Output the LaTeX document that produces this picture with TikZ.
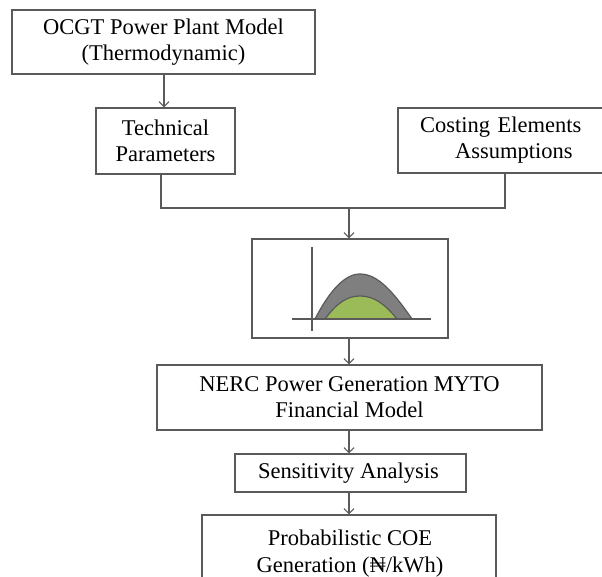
\documentclass[tikz,border=0pt]{standalone}
\usepackage{fontspec}
\setmainfont{Liberation Serif}
\usetikzlibrary{arrows.meta}
\definecolor{linec}{HTML}{5A5A5A}
\definecolor{humpgray}{HTML}{7F7F7F}
\definecolor{humpgreen}{HTML}{9BBB59}
\begin{document}
\begin{tikzpicture}[x=1pt,y=-1pt,
  box/.style={draw=linec, line width=1.3pt, rectangle, inner sep=0pt, align=center,
    font=\fontsize{22.5}{26}\selectfont},
  conn/.style={draw=linec, line width=1.3pt},
  arr/.style={conn, -{Straight Barb[length=5pt,width=10pt,line width=1.1pt]}}]
\useasboundingbox (0,0) rectangle (602,577);
\clip (0,0) rectangle (602,577);
\fill[white] (0,0) rectangle (602,577);
\node[box, minimum width=303pt, minimum height=64pt] (ocgt) at (163.5,42) {OCGT Power Plant Model\\(Thermodynamic)};
\node[box, minimum width=139pt, minimum height=66pt] (tech) at (165.5,141) {Technical\\Parameters};
\node[box, minimum width=260pt, minimum height=65pt, text width=260pt, align=left] (cost) at (528,140.5) {\hspace*{22pt}Costing Elements\\\hspace*{57pt}Assumptions};
\node[box, minimum width=196pt, minimum height=99pt] (chart) at (350,288.5) {};
\node[box, minimum width=385pt, minimum height=65pt] (nerc) at (349.5,397.5) {NERC Power Generation MYTO\\Financial Model};
\node[box, minimum width=231pt, minimum height=38pt] (sens) at (350.5,473) {\hspace*{-4pt}Sensitivity Analysis};
\node[box, minimum width=294pt, minimum height=85pt] (coe) at (349,557.5) {};
\node[font=\fontsize{22.5}{27}\selectfont, align=center, inner sep=0pt, anchor=base] (coetxt) at (350,572) {Probabilistic COE\\Generation (₦/kWh)};
% join
\coordinate (tdn) at (161,208);
\coordinate (cdn) at (505,208);
\coordinate (mid) at (349,208);
\draw[arr] (ocgt.south -| 164,0) -- (tech.north -| 164,0);
\draw[conn] (tech.south -| tdn) -- (tdn) -- (cdn) -- (cost.south -| cdn);
\draw[arr] (mid) -- (chart.north -| mid);
\draw[arr] (chart.south -| mid) -- (nerc.north -| mid);
\draw[arr] (nerc.south -| mid) -- (sens.north -| mid);
\draw[arr] (sens.south -| mid) -- (coe.north -| mid);
% chart content
\draw[fill=humpgray, draw=linec, line width=1.2pt]
  (315,319) .. controls (330,290) and (345,274) .. (360,274)
  .. controls (377,274) and (392,290) .. (412,319) -- cycle;
\draw[fill=humpgreen, draw=none]
  (325,319) .. controls (337,303) and (347,296) .. (360,296)
  .. controls (374,296) and (385,304) .. (397,319) -- cycle;
\draw[draw=linec, line width=1.2pt]
  (325,319) .. controls (337,303) and (347,296) .. (360,296)
  .. controls (374,296) and (385,304) .. (397,319);
\draw[draw=linec, line width=1.2pt] (312,247) -- (312,331);
\draw[draw=linec, line width=1.2pt] (292,319) -- (431,319);
\end{tikzpicture}
\end{document}
